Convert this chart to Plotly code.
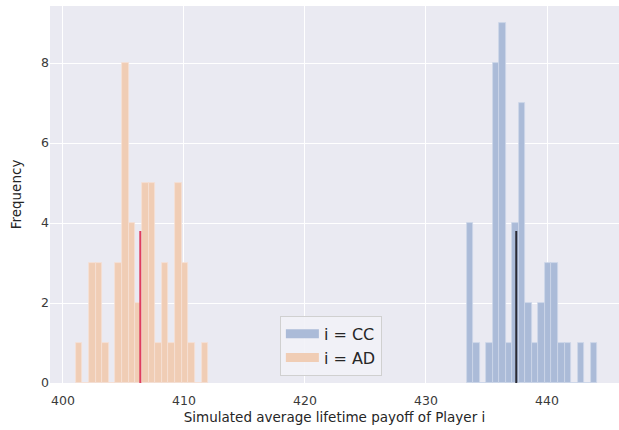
import plotly.graph_objects as go

# Histogram data (bin counts)
cc_bin_start = 433.37
cc_bin_width = 0.5385
cc_counts = [4, 1, 0, 1, 8, 9, 1, 4, 7, 2, 1, 2, 3, 3, 1, 1, 0, 1, 0, 1]

ad_bin_start = 401.05
ad_bin_width = 0.5475
ad_counts = [1, 0, 3, 3, 1, 0, 3, 8, 4, 2, 5, 5, 1, 3, 1, 5, 3, 1, 0, 1]

cc_mean = 437.46
ad_mean = 406.39
mean_line_height = 3.8

cc_label = "i = CC"
ad_label = "i = AD"

x_ticks = [400, 410, 420, 430, 440]
y_ticks = [0, 2, 4, 6, 8]

cc_fill = "rgb(171,187,216)"
cc_edge = "rgb(205,213,232)"
ad_fill = "rgb(240,205,181)"
ad_edge = "rgb(245,224,212)"

def centers(start, width, n):
    return [start + width * (i + 0.5) for i in range(n)]

fig = go.Figure()

fig.add_trace(go.Bar(
    x=centers(cc_bin_start, cc_bin_width, len(cc_counts)), y=cc_counts,
    width=cc_bin_width, marker=dict(color=cc_fill, line=dict(color=cc_edge, width=0.8)),
    showlegend=False, hoverinfo="x+y"))
fig.add_trace(go.Bar(
    x=centers(ad_bin_start, ad_bin_width, len(ad_counts)), y=ad_counts,
    width=ad_bin_width, marker=dict(color=ad_fill, line=dict(color=ad_edge, width=0.8)),
    showlegend=False, hoverinfo="x+y"))

# mean lines
fig.add_trace(go.Scatter(x=[cc_mean, cc_mean], y=[0, mean_line_height], mode="lines",
                         line=dict(color="#2a2a33", width=2), showlegend=False))
fig.add_trace(go.Scatter(x=[ad_mean, ad_mean], y=[0, mean_line_height], mode="lines",
                         line=dict(color="rgb(222,62,95)", width=2), showlegend=False))

# legend entries
fig.add_trace(go.Scatter(x=[None], y=[None], mode="lines", name=cc_label,
                         line=dict(color=cc_fill, width=9)))
fig.add_trace(go.Scatter(x=[None], y=[None], mode="lines", name=ad_label,
                         line=dict(color=ad_fill, width=9)))

font_color = "#262626"
fig.update_layout(
    width=619, height=430,
    margin=dict(l=50, r=0, t=6, b=47),
    paper_bgcolor="white", plot_bgcolor="#EAEAF2",
    barmode="overlay", bargap=0,
    font=dict(family="DejaVu Sans", color=font_color, size=12),
    legend=dict(x=0.404, y=0.019, xanchor="left", yanchor="bottom",
                bgcolor="rgba(242,242,247,0.9)", bordercolor="#D0D0D0", borderwidth=1,
                font=dict(size=16, color=font_color), itemwidth=33,
                tracegroupgap=0),
    xaxis=dict(range=[398.93, 445.95], tickvals=x_ticks, showgrid=True,
               gridcolor="white", gridwidth=1, zeroline=False, ticks="",
               tickfont=dict(size=12.5, color="#3a3a3a"), ticklabelstandoff=8,
               title=dict(text="Simulated average lifetime payoff of Player i",
                          font=dict(size=13.5, color=font_color), standoff=6)),
    yaxis=dict(range=[0, 9.425], tickvals=y_ticks, showgrid=True,
               gridcolor="white", gridwidth=1, zeroline=False, ticks="",
               tickfont=dict(size=12.5, color="#3a3a3a"),
               title=dict(text="Frequency", font=dict(size=13.5, color=font_color), standoff=16)),
)

fig.write_html("out.html")
